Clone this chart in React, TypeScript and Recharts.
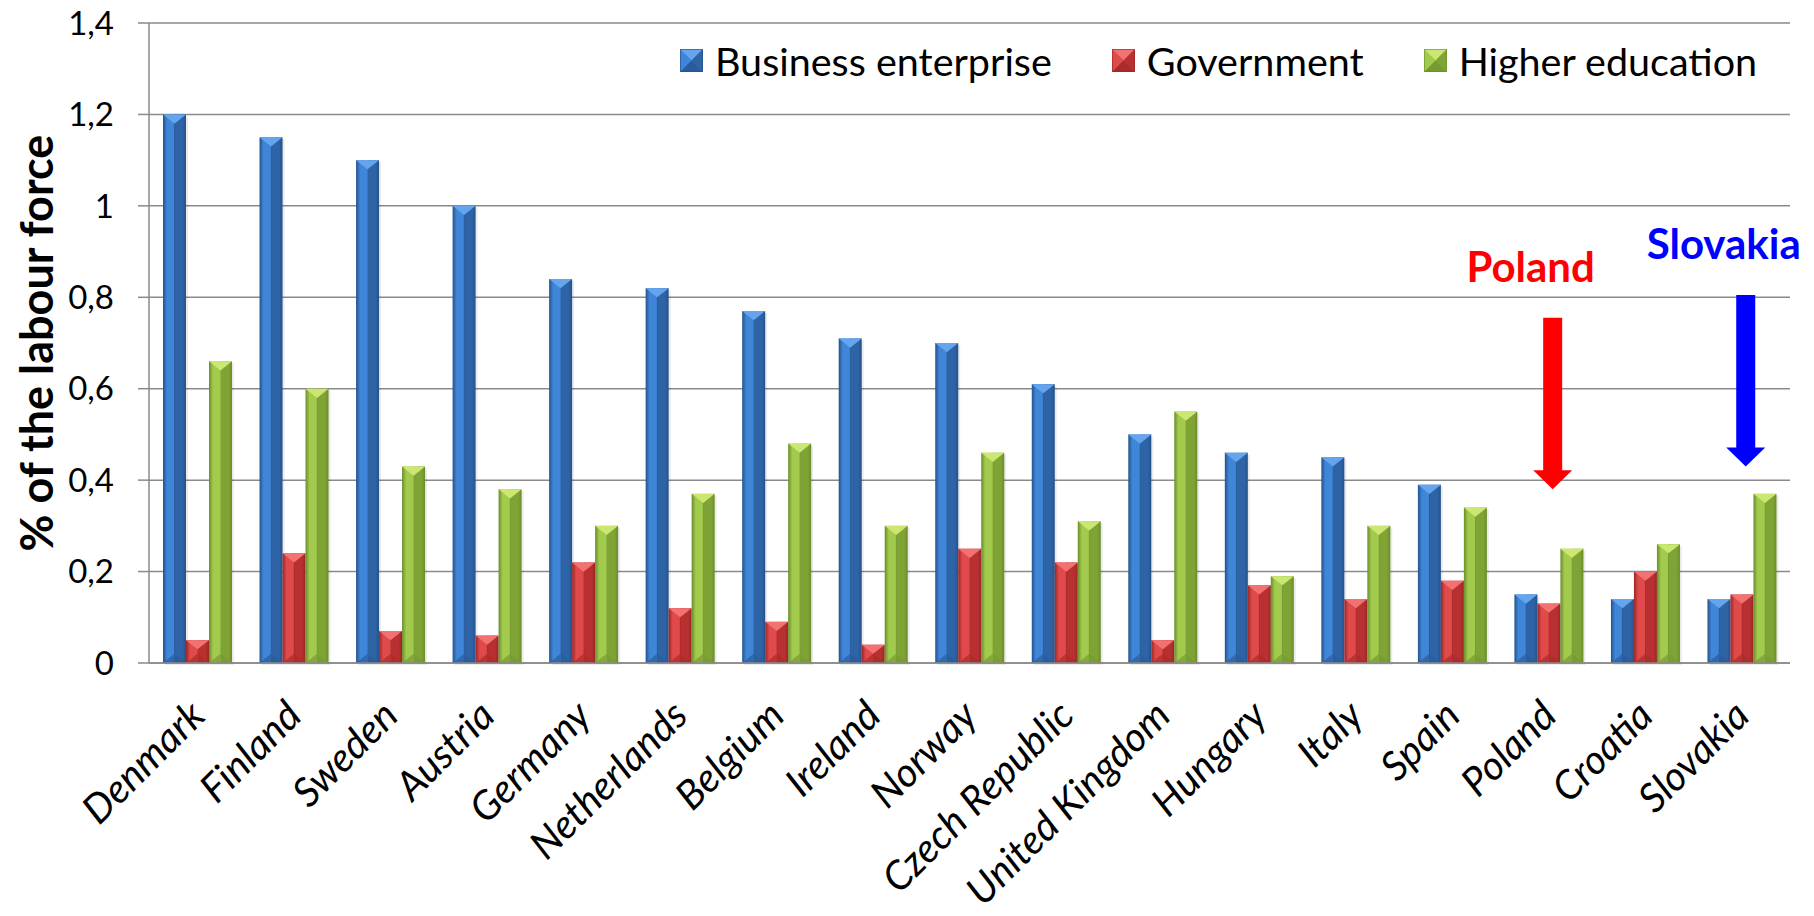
import { BarChart, Bar, XAxis, YAxis, CartesianGrid, Legend, ReferenceLine, Label } from "recharts"

const FONT = "Lato, 'Open Sans', sans-serif"

const countries = [
  "Denmark", "Finland", "Sweden", "Austria", "Germany", "Netherlands", "Belgium", "Ireland", "Norway",
  "Czech Republic", "United Kingdom", "Hungary", "Italy", "Spain", "Poland", "Croatia", "Slovakia",
]
const businessEnterprise = [1.2, 1.15, 1.1, 1.0, 0.84, 0.82, 0.77, 0.71, 0.7, 0.61, 0.5, 0.46, 0.45, 0.39, 0.15, 0.14, 0.14]
const government = [0.05, 0.24, 0.07, 0.06, 0.22, 0.12, 0.09, 0.04, 0.25, 0.22, 0.05, 0.17, 0.14, 0.18, 0.13, 0.2, 0.15]
const higherEducation = [0.66, 0.6, 0.43, 0.38, 0.3, 0.37, 0.48, 0.3, 0.46, 0.31, 0.55, 0.19, 0.3, 0.34, 0.25, 0.26, 0.37]
const seriesKeys = ["business", "government", "higher"]
const seriesNames = ["Business enterprise", "Government", "Higher education"]
const yTicks = [0, 0.2, 0.4, 0.6, 0.8, 1, 1.2, 1.4]
const highlights = [
  { country: "Poland", top: 0.755, tip: 0.38, color: "#ff0000" },
  { country: "Slovakia", top: 0.805, tip: 0.43, color: "#0000ff" },
]

const data = countries.map((country, i) => ({
  country,
  business: businessEnterprise[i],
  government: government[i],
  higher: higherEducation[i],
}))

const palette: Record<string, { left: string; mid: string; right: string; edge: string; top: string; bottom: string }> = {
  business: { left: "#2f66ae", mid: "#4086d8", right: "#2e63a6", edge: "#24528c", top: "#64a5ee", bottom: "#2a5c9c" },
  government: { left: "#c23535", mid: "#e04a4a", right: "#b83030", edge: "#992626", top: "#f27272", bottom: "#a82c2c" },
  higher: { left: "#86ad3c", mid: "#a2cb4e", right: "#7fa435", edge: "#6a8c2a", top: "#cbe772", bottom: "#759a30" },
}

const gridColor = "#8a8a8a"

const BevelBar = (props: any) => {
  const { x, y, width, height, seriesKey } = props
  if (!height || height <= 0) return null
  const c = palette[seriesKey]
  const d = Math.min(width * 0.4, height / 2)
  const cx = x + width / 2
  return (
    <g>
      <rect x={x + 2} y={y + 2} width={width} height={height} fill="#000" opacity={0.08} />
      <rect x={x} y={y} width={width} height={height} fill={`url(#grad-${seriesKey})`} />
      <polygon points={`${x},${y} ${x + width},${y} ${cx},${y + d}`} fill={c.top} />
      <polygon points={`${x},${y + height} ${x + width},${y + height} ${cx},${y + height - d}`} fill={c.bottom} opacity={0.7} />
      <line x1={cx} y1={y + d} x2={cx} y2={y + height - d} stroke={c.edge} strokeOpacity={0.35} />
    </g>
  )
}

const LegendMarker = ({ k }: { k: string }) => {
  const c = palette[k]
  return (
    <svg width={23} height={23} style={{ marginRight: 12, display: "block" }}>
      <rect x={0} y={0} width={23} height={23} fill={c.mid} />
      <polygon points="0,0 23,0 11.5,11.5" fill={c.top} />
      <polygon points="0,0 11.5,11.5 0,23" fill={c.mid} />
      <polygon points="23,0 11.5,11.5 23,23" fill={c.right} />
      <polygon points="0,23 23,23 11.5,11.5" fill={c.bottom} />
      <rect x={0.5} y={0.5} width={22} height={22} fill="none" stroke={c.edge} strokeOpacity={0.6} />
    </svg>
  )
}

const renderLegend = () => (
  <div style={{ display: "flex", alignItems: "center", fontFamily: FONT, fontSize: 39.5, color: "#000", whiteSpace: "nowrap" }}>
    {seriesKeys.map((k, i) => (
      <div key={k} style={{ display: "flex", alignItems: "center", marginLeft: i ? 60 : 0 }}>
        <LegendMarker k={k} />
        <span>{seriesNames[i]}</span>
      </div>
    ))}
  </div>
)

const CountryTick = ({ x, y, payload }: any) => (
  <text
    transform={`translate(${x + 10},${y + 55}) rotate(-45)`}
    textAnchor="end"
    fontStyle="italic"
    fontSize={40}
    fontFamily={FONT}
    fill="#000"
  >
    {payload.value}
  </text>
)

const renderYLabel = ({ viewBox }: any) => (
  <text
    transform={`translate(36,${viewBox.y + viewBox.height / 2}) rotate(-90)`}
    textAnchor="middle"
    dominantBaseline="central"
    fontFamily={FONT}
    fontWeight="bold"
    fontSize={45}
    fill="#000"
  >
    % of the labour force
  </text>
)

const Arrow = (props: any, label: string, color: string) => {
  const { x1, y1, y2 } = props
  const cx = x1 + 4
  const shaft = 9.5
  const head = 19.5
  const headLen = 19
  const pts = [
    [cx - shaft, y1], [cx + shaft, y1], [cx + shaft, y2 - headLen], [cx + head, y2 - headLen],
    [cx, y2], [cx - head, y2 - headLen], [cx - shaft, y2 - headLen],
  ].map((p) => p.join(",")).join(" ")
  return (
    <g>
      <polygon points={pts} fill={color} />
      <text x={x1 - 18} y={y1 - 36} textAnchor="middle" fontFamily={FONT} fontWeight="bold" fontSize={42} fill={color}>
        {label}
      </text>
    </g>
  )
}

export default function App() {
  return (
    <div style={{ position: "absolute", left: 0, top: 0, background: "#fff" }}>
      <BarChart width={1814} height={916} data={data} margin={{ top: 23, right: 24, bottom: 0, left: 0 }} barGap={0} barSize={23}>
        <defs>
          {seriesKeys.map((k) => (
            <linearGradient key={k} id={`grad-${k}`} x1="0" y1="0" x2="1" y2="0">
              <stop offset="0" stopColor={palette[k].edge} />
              <stop offset="0.18" stopColor={palette[k].mid} />
              <stop offset="0.5" stopColor={palette[k].mid} />
              <stop offset="0.5" stopColor={palette[k].right} />
              <stop offset="0.85" stopColor={palette[k].right} />
              <stop offset="1" stopColor={palette[k].edge} />
            </linearGradient>
          ))}
        </defs>
        <CartesianGrid vertical={false} stroke={gridColor} strokeWidth={1.5} />
        <XAxis
          dataKey="country"
          interval={0}
          height={253}
          tick={<CountryTick />}
          tickLine={false}
          tickSize={0}
          tickMargin={0}
          axisLine={{ stroke: gridColor, strokeWidth: 1.5 }}
        />
        <YAxis
          width={149}
          domain={[0, 1.4]}
          ticks={yTicks}
          tickFormatter={(v: number) => String(v).replace(".", ",")}
          tick={{ fill: "#000", fontSize: 33, fontFamily: FONT }}
          tickSize={11}
          tickMargin={24}
          tickLine={{ stroke: gridColor, strokeWidth: 1.5 }}
          axisLine={{ stroke: gridColor, strokeWidth: 1.5 }}
        >
          <Label content={renderYLabel} />
        </YAxis>
        <Legend
          layout="horizontal"
          verticalAlign="middle"
          align="center"
          content={renderLegend}
          wrapperStyle={{ top: 37, left: 680, width: "auto" }}
        />
        {seriesKeys.map((k, i) => (
          <Bar
            key={k}
            dataKey={k}
            name={seriesNames[i]}
            isAnimationActive={false}
            shape={(p: any) => <BevelBar {...p} seriesKey={k} />}
          />
        ))}
        {highlights.map((h) => (
          <ReferenceLine
            key={h.country}
            segment={[{ x: h.country, y: h.top }, { x: h.country, y: h.tip }]}
            ifOverflow="visible"
            shape={(p: any) => Arrow(p, h.country, h.color)}
          />
        ))}
      </BarChart>
    </div>
  )
}
